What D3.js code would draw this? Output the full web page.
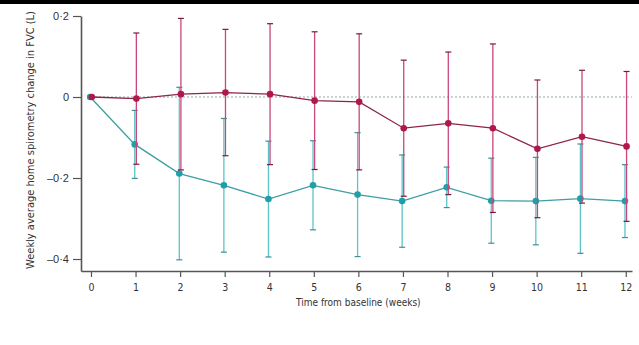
<!DOCTYPE html>
<html>
<head>
<meta charset="utf-8">
<script src="https://cdn.jsdelivr.net/npm/d3@7"></script>
<style>
  body { margin: 0; background: #fff; }
  svg text { font-family: "DejaVu Sans Condensed", "Liberation Sans", sans-serif; fill: #333; }
</style>
</head>
<body>
<div id="chart"></div>
<script>
// weeks from baseline
let weeks = [0, 1, 2, 3, 4, 5, 6, 7, 8, 9, 10, 11, 12];

// red group: mean change and SD (L)
let redMean = [0, -0.004, 0.007, 0.011, 0.007, -0.009, -0.012, -0.077, -0.065, -0.077, -0.128, -0.098, -0.122];
let redSd = [0, 0.162, 0.187, 0.156, 0.174, 0.170, 0.168, 0.168, 0.176, 0.208, 0.170, 0.164, 0.185];

// cyan group
let cyanMean = [0, -0.117, -0.189, -0.218, -0.252, -0.218, -0.241, -0.257, -0.223, -0.256, -0.257, -0.251, -0.257];
let cyanSd = [0, 0.084, 0.213, 0.165, 0.143, 0.110, 0.153, 0.114, 0.050, 0.105, 0.108, 0.135, 0.090];

let yTicks = [0.2, 0, -0.2, -0.4];

var fmt = function (v) {
    if (v == 0) return "0";
    let s = Math.abs(v).toFixed(1).replace(".", "\u00b7");
    return v < 0 ? "\u2013" + s : s;
};

var svg = d3.select("#chart")
    .append("svg")
    .attr("width", 639)
    .attr("height", 345);

// black strip along the top of the scan
svg.append("rect").attr("x", 0).attr("y", 0).attr("width", 639).attr("height", 4).attr("fill", "#000");

var x = d3.scaleLinear().domain([-0.224, 12.14]).range([81, 632]);
var y = d3.scaleLinear().domain([-0.4296, 0.2]).range([271, 16]);

// reference line at zero
svg.append("line")
    .attr("x1", x(0)).attr("x2", x(12.14))
    .attr("y1", y(0)).attr("y2", y(0))
    .attr("stroke", "#8fa8a6")
    .attr("stroke-width", 1)
    .attr("stroke-dasharray", "2,2");

// axes
let yAxis = svg.append("g")
    .attr("transform", "translate(81,0)")
    .call(d3.axisLeft(y).tickValues(yTicks).tickFormat(fmt).tickSize(8).tickPadding(4).tickSizeOuter(0));

let xAxis = svg.append("g")
    .attr("transform", "translate(0,271)")
    .call(d3.axisBottom(x).tickValues(weeks).tickFormat(d3.format("d")).tickSize(6).tickPadding(7).tickSizeOuter(0));

[yAxis, xAxis].forEach(a => {
    a.select(".domain").attr("stroke", "#555").attr("stroke-width", 1.6);
    a.selectAll(".tick line").attr("stroke", "#555").attr("stroke-width", 1.2);
    a.selectAll(".tick text").style("font-size", "10.5px").attr("fill", "#333");
});
yAxis.selectAll(".tick text").style("font-family", "'Liberation Sans', sans-serif").style("font-size", "11px");

svg.append("text")
    .attr("x", x(6)).attr("y", 306)
    .attr("text-anchor", "middle")
    .style("font-size", "10px")
    .text("Time from baseline (weeks)");

svg.append("text")
    .attr("transform", "translate(34,140) rotate(-90)")
    .attr("text-anchor", "middle")
    .style("font-size", "11px")
    .text("Weekly average home spirometry change in FVC (L)");

function drawGroup(mean, sd, dx, lineColor, barColor, capColor, dotColor) {
    let data = weeks.map((w, i) => ({ w: w, m: mean[i], s: sd[i] }));
    let g = svg.append("g");

    let bars = data.filter(d => d.s > 0);
    g.selectAll(".bar").data(bars).enter().append("line")
        .attr("x1", d => x(d.w) + dx).attr("x2", d => x(d.w) + dx)
        .attr("y1", d => y(d.m + d.s)).attr("y2", d => y(d.m - d.s))
        .attr("stroke", barColor).attr("stroke-width", 1.3);

    [1, -1].forEach(sign => {
        g.selectAll(".cap" + sign).data(bars).enter().append("line")
            .attr("x1", d => x(d.w) + dx - 3).attr("x2", d => x(d.w) + dx + 3)
            .attr("y1", d => y(d.m + sign * d.s)).attr("y2", d => y(d.m + sign * d.s))
            .attr("stroke", capColor).attr("stroke-width", 1.2);
    });

    var lineFunc = d3.line()
        .x(d => x(d.w) + dx)
        .y(d => y(d.m));

    g.append("path")
        .attr("d", lineFunc(data))
        .attr("fill", "none")
        .attr("stroke", lineColor)
        .attr("stroke-width", 1.3);

    g.selectAll(".dot").data(data).enter().append("circle")
        .attr("cx", d => x(d.w) + dx)
        .attr("cy", d => y(d.m))
        .attr("r", 3.3)
        .attr("fill", dotColor);
}

drawGroup(cyanMean, cyanSd, -0.8, "#3d9ea3", "#5cc4c8", "#3f8f93", "#1f9fa8");
drawGroup(redMean, redSd, 0.8, "#8e2447", "#c9467c", "#7a1a3a", "#b0184c");
</script>
</body>
</html>
